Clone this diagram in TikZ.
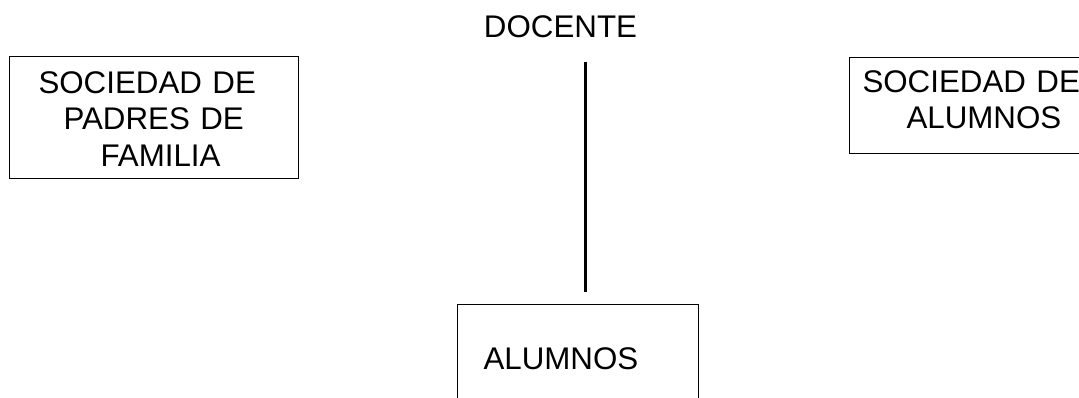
\documentclass[tikz,border=0pt]{standalone}
\usepackage{fontspec}
\setmainfont{Liberation Sans}
\newcommand{\tope}[1]{\rule{0pt}{#1pt}}
\newcommand{\fondo}[1]{\rule[-#1pt]{0pt}{#1pt}}
\tikzset{
  caja/.style={draw=black, line width=1pt, inner sep=0pt, anchor=north west, align=left,
    font=\fontsize{31.3}{36.5}\selectfont},
  texto/.style={inner sep=0pt, font=\fontsize{31.3}{36.5}\selectfont},
  enlace/.style={draw=black, line width=3pt}
}
\begin{document}
\begin{tikzpicture}[x=1pt,y=-1pt]
\useasboundingbox (0,0) rectangle (1079,398);
\clip (0,0) rectangle (1079,398);
\node[texto, anchor=base] (docente) at (560.5,38) {DOCENTE};
\node[caja, text width=289pt] (padres) at (9,56)
  {\hspace*{29pt}\tope{37}SOCIEDAD DE\\\hspace*{54pt}PADRES DE\\\hspace*{91pt}FAMILIA\fondo{12}};
\node[caja, text width=250pt] (socalumnos) at (849,57)
  {\hspace*{13pt}\tope{35}SOCIEDAD DE\\\hspace*{57pt}ALUMNOS\fondo{25}};
\node[caja, text width=241pt] (alumnos) at (457,304)
  {\hspace*{26pt}\tope{65}ALUMNOS\fondo{51}};
\draw[enlace, shorten <=23pt, shorten >=12pt] ([xshift=24.5pt]docente.south) -- ([xshift=24.5pt]docente.south |- alumnos.north);
\end{tikzpicture}
\end{document}
